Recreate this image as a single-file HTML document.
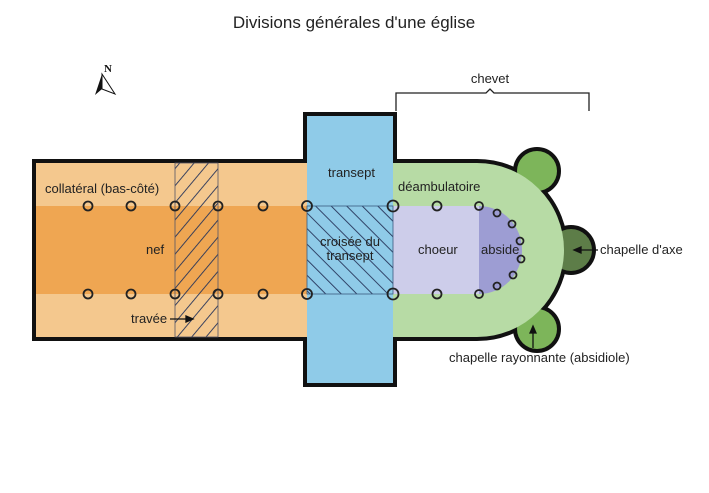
<!DOCTYPE html>
<html><head><meta charset="utf-8"><style>
html,body{margin:0;padding:0;background:#fff;}
svg{display:block;font-family:"Liberation Sans",sans-serif;}
</style></head><body>
<svg width="709" height="493" viewBox="0 0 709 493">
<defs>
<pattern id="h1" width="11" height="11" patternUnits="userSpaceOnUse" patternTransform="rotate(40)">
<line x1="0" y1="0" x2="0" y2="11" stroke="#26345a" stroke-width="1.8"/></pattern>
<pattern id="h2" width="11" height="11" patternUnits="userSpaceOnUse" patternTransform="rotate(-45)">
<line x1="0" y1="0" x2="0" y2="11" stroke="#26345a" stroke-width="1.8"/></pattern>
</defs>
<text x="354" y="28" font-size="17" text-anchor="middle" fill="#222">Divisions générales d'une église</text>
<text x="104" y="72" font-size="11" font-weight="bold" font-family="Liberation Serif" fill="#111">N</text>
<polygon points="102,74 95,95 102,89" fill="#111"/>
<polygon points="102,74 115,94 102,89" fill="none" stroke="#111" stroke-width="1"/>
<text x="490" y="83" font-size="13" text-anchor="middle" fill="#222">chevet</text>
<path d="M396,111 V93 H486 L490,89 L494,93 H589 V111" fill="none" stroke="#222" stroke-width="1.3"/>
<g stroke="#111" stroke-width="8" fill="none">
<path d="M36,163 H307 V116 H393 V163 H477 A87,87 0 0 1 477,337 H393 V383 H307 V337 H36 Z"/>
<circle cx="537" cy="171" r="20"/><circle cx="571" cy="250" r="21"/><circle cx="537" cy="329" r="20"/>
</g>
<circle cx="537" cy="171" r="20" fill="#7db55a"/>
<circle cx="571" cy="250" r="21" fill="#5d7d48"/>
<circle cx="537" cy="329" r="20" fill="#7db55a"/>
<rect x="36" y="163" width="271" height="174" fill="#f4c88e"/>
<rect x="36" y="206" width="271" height="88" fill="#efa652"/>
<path d="M393,163 H477 A87,87 0 0 1 477,337 H393 Z" fill="#b7dba5"/>
<rect x="307" y="116" width="86" height="267" fill="#8fcbe8"/>
<rect x="393" y="206" width="86" height="88" fill="#cdcdea"/>
<path d="M479,206 A43,44 0 0 1 479,294 Z" fill="#9d9dd3"/>
<rect x="175" y="163" width="43" height="174" fill="url(#h1)" stroke="#556" stroke-width="0.8"/>
<rect x="307" y="206" width="86" height="88" fill="url(#h2)" stroke="#3a5a80" stroke-width="0.8"/>
<g fill="none" stroke="#222" stroke-width="1.8">
<circle cx="88" cy="206" r="4.5"/><circle cx="131" cy="206" r="4.5"/><circle cx="175" cy="206" r="4.5"/><circle cx="218" cy="206" r="4.5"/><circle cx="263" cy="206" r="4.5"/><circle cx="307" cy="206" r="5"/><circle cx="393" cy="206" r="5.5"/><circle cx="437" cy="206" r="4.5"/><circle cx="479" cy="206" r="4"/>
<circle cx="88" cy="294" r="4.5"/><circle cx="131" cy="294" r="4.5"/><circle cx="175" cy="294" r="4.5"/><circle cx="218" cy="294" r="4.5"/><circle cx="263" cy="294" r="4.5"/><circle cx="307" cy="294" r="5"/><circle cx="393" cy="294" r="5.5"/><circle cx="437" cy="294" r="4.5"/><circle cx="479" cy="294" r="4"/>
<circle cx="497" cy="213" r="3.5"/><circle cx="512" cy="224" r="3.5"/><circle cx="520" cy="241" r="3.5"/><circle cx="521" cy="259" r="3.5"/><circle cx="513" cy="275" r="3.5"/><circle cx="497" cy="286" r="3.5"/>
</g>
<g font-size="13" fill="#222">
<text x="45" y="193">collatéral (bas-côté)</text>
<text x="146" y="254">nef</text>
<text x="131" y="323">travée</text>
<text x="328" y="177">transept</text>
<text x="398" y="191">déambulatoire</text>
<text x="350" y="246" text-anchor="middle">croisée du</text>
<text x="350" y="260" text-anchor="middle">transept</text>
<text x="418" y="254">choeur</text>
<text x="481" y="254">abside</text>
<text x="600" y="254">chapelle d'axe</text>
<text x="449" y="362">chapelle rayonnante (absidiole)</text>
</g>
<g stroke="#111" stroke-width="1.3" fill="#111">
<line x1="170" y1="319" x2="188" y2="319"/><polygon points="193,319 186,316 186,322"/>
<line x1="598" y1="250" x2="580" y2="250"/><polygon points="574,250 581,247 581,253"/>
<line x1="533" y1="348" x2="533" y2="332"/><polygon points="533,326 530,333 536,333"/>
</g>
</svg>
</body></html>
